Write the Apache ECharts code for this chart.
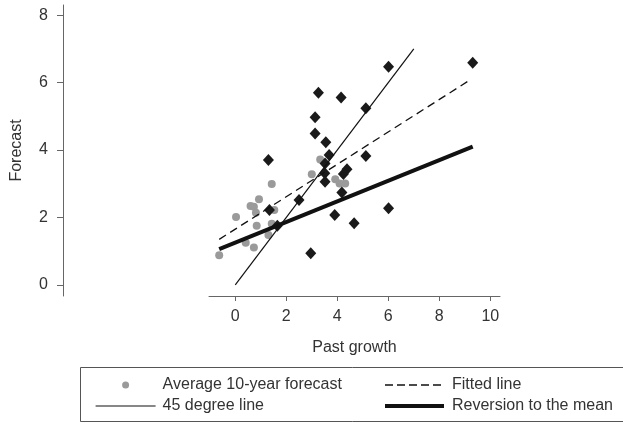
<!DOCTYPE html>
<html>
<head>
<meta charset="utf-8">
<script src="https://cdn.jsdelivr.net/npm/echarts@6/dist/echarts.min.js"></script>
<style>html,body{margin:0;padding:0;background:#fff}#c{width:623px;height:423px}</style>
</head>
<body>
<div id="c"></div>
<script>
// Average 10-year forecast (gray circles)
var avgX = [-0.63, 0.03, 0.41, 0.73, 0.60, 0.73, 0.93, 0.84, 0.81, 1.43, 1.53, 1.43, 1.30, 3.00, 3.33, 3.92, 4.09, 4.31];
var avgY = [0.88, 2.01, 1.25, 1.11, 2.34, 2.32, 2.54, 1.75, 2.14, 2.99, 2.22, 1.81, 1.48, 3.28, 3.72, 3.13, 3.01, 3.01];
// Individual points (black diamonds)
var indX = [6.01, 9.31, 3.26, 4.15, 5.12, 3.13, 3.13, 3.55, 3.68, 1.30, 5.12, 3.52, 4.38, 4.24, 3.51, 3.52, 4.18, 2.50, 1.34, 6.01, 3.90, 4.66, 1.65, 2.96];
var indY = [6.47, 6.59, 5.70, 5.56, 5.24, 4.97, 4.49, 4.23, 3.85, 3.70, 3.82, 3.60, 3.43, 3.29, 3.31, 3.06, 2.74, 2.52, 2.22, 2.27, 2.07, 1.83, 1.75, 0.94];
// Lines
var line45X = [0, 7.0];
var line45Y = [0, 7.0];
var fitX = [-0.63, 9.19];
var fitY = [1.35, 6.07];
var revX = [-0.63, 9.31];
var revY = [1.06, 4.10];
// Ticks
var xTicks = [0, 2, 4, 6, 8, 10];
var yTicks = [0, 2, 4, 6, 8];

function pairs(xs, ys) { return xs.map(function (x, i) { return [x, ys[i]]; }); }

var FONT = "'Liberation Sans', Arial, sans-serif";
var AX = '#666';
var TXT = '#333';
var noSym = {color: 'rgba(0,0,0,0)', borderWidth: 0, opacity: 0};

var chart = echarts.init(document.getElementById('c'), null, {renderer: 'canvas'});
chart.setOption({
  animation: false,
  backgroundColor: '#fff',
  textStyle: {fontFamily: FONT},
  grid: {left: 209, right: 123, top: 5, bottom: 127, containLabel: false},
  xAxis: {
    type: 'value', min: -1.03, max: 10.38,
    name: 'Past growth', nameLocation: 'middle', nameGap: 44,
    nameTextStyle: {fontSize: 16, color: TXT, fontFamily: FONT},
    axisLine: {show: true, onZero: false, lineStyle: {color: AX, width: 1}},
    axisTick: {show: true, length: 5, lineStyle: {color: AX}, customValues: xTicks},
    axisLabel: {fontSize: 16, color: TXT, margin: 13, fontFamily: FONT, customValues: xTicks},
    splitLine: {show: false}
  },
  yAxis: {
    type: 'value', min: -0.33, max: 8.3, offset: 146,
    name: 'Forecast', nameLocation: 'middle', nameGap: 38,
    nameTextStyle: {fontSize: 16, color: TXT, fontFamily: FONT},
    axisLine: {show: true, onZero: false, lineStyle: {color: AX, width: 1}},
    axisTick: {show: true, length: 6, lineStyle: {color: AX}, customValues: yTicks},
    axisLabel: {fontSize: 16, color: TXT, margin: 15, fontFamily: FONT, customValues: yTicks},
    splitLine: {show: false}
  },
  legend: [{
    orient: 'vertical', left: 90, top: 372,
    itemWidth: 60, itemHeight: 7, itemGap: 5,
    data: [
      {name: 'Average 10-year forecast'},
      {name: '45 degree line', itemStyle: noSym, lineStyle: {width: 1.2, color: '#111', type: 'solid'}}
    ],
    textStyle: {fontSize: 16, color: TXT, fontFamily: FONT, padding: [0, 0, 0, 2]},
    selectedMode: false
  }, {
    orient: 'vertical', left: 378, top: 372,
    itemWidth: 59, itemHeight: 7, itemGap: 5,
    data: [
      {name: 'Fitted line', itemStyle: noSym, lineStyle: {width: 1.3, color: '#111', type: [8, 4]}},
      {name: 'Reversion to the mean', itemStyle: noSym, lineStyle: {width: 4, color: '#111', type: 'solid'}}
    ],
    textStyle: {fontSize: 16, color: TXT, fontFamily: FONT, padding: [0, 0, 0, 3]},
    selectedMode: false
  }],
  graphic: [{
    type: 'rect', silent: true,
    shape: {x: 80.5, y: 367.5, width: 560, height: 54},
    style: {fill: 'none', stroke: '#555', lineWidth: 1}
  }],
  series: [{
    name: 'Average 10-year forecast', type: 'scatter', symbol: 'circle', symbolSize: 8,
    itemStyle: {color: '#9a9a9a', opacity: 1}, z: 2,
    data: pairs(avgX, avgY)
  }, {
    name: 'Individual', type: 'scatter', symbol: 'diamond', symbolSize: [11, 12],
    itemStyle: {color: '#1a1a1a', opacity: 1}, z: 3,
    data: pairs(indX, indY)
  }, {
    name: '45 degree line', type: 'line', symbol: 'none', showSymbol: false, z: 4,
    lineStyle: {color: '#111', width: 1.2, type: 'solid'},
    itemStyle: {color: '#111'},
    data: pairs(line45X, line45Y)
  }, {
    name: 'Fitted line', type: 'line', symbol: 'none', showSymbol: false, z: 4,
    lineStyle: {color: '#111', width: 1.3, type: [8, 5]},
    itemStyle: {color: '#111'},
    data: pairs(fitX, fitY)
  }, {
    name: 'Reversion to the mean', type: 'line', symbol: 'none', showSymbol: false, z: 4,
    lineStyle: {color: '#111', width: 4, type: 'solid'},
    itemStyle: {color: '#111'},
    data: pairs(revX, revY)
  }]
});
</script>
</body>
</html>
